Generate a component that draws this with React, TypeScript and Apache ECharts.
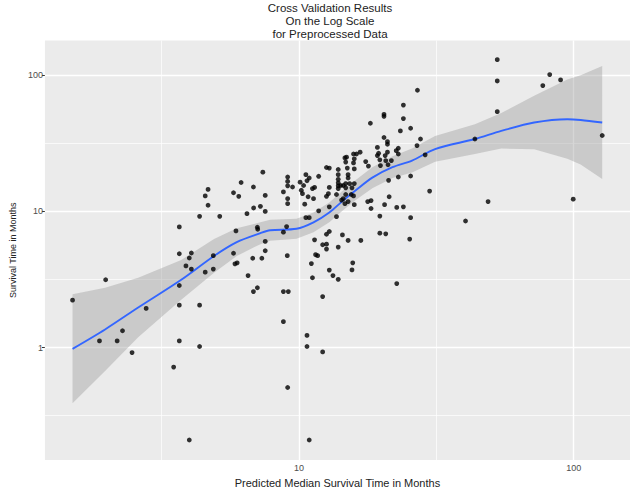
import React, { useEffect, useRef } from "react";
import * as echarts from "echarts";

// Observed points (months): predicted median survival vs observed survival
const predicted = [
  1.5, 1.88, 1.98, 2.18, 2.28, 2.47, 2.78, 3.5, 3.67, 3.67, 3.67, 3.67, 3.67, 3.88, 3.99, 3.99, 4.06, 4.06, 4.35, 4.35,
  4.35, 4.56, 4.56, 4.67, 4.67, 4.88, 4.88, 5.15, 5.78, 5.78, 5.85, 5.96, 5.9, 6.04, 6.16, 6.47, 6.53, 6.83, 6.79, 6.83,
  6.84, 7.06, 7.08, 7.06, 7.24, 7.33, 7.39, 7.54, 7.54, 7.54, 7.54, 8.78, 8.78, 8.78, 8.78, 9.02, 9.07, 9.1, 9.1, 9.1,
  9.1, 9.1, 9.15, 9.1, 9.48, 10.1, 10.4, 10.6, 10.7, 10.9, 10.2, 10.3, 10.8, 11.3, 10.5, 11.2, 11.4, 11.8, 11.8, 10.6,
  10.9, 11.4, 12.2, 12.6, 12.6, 11.5, 11.7, 11.1, 11.2, 12.2, 10.7, 10.7, 12.2, 10.9, 12.6, 12.9, 12.9, 12.8, 12.6, 12.9,
  12.9, 12.6, 12.9, 13.3, 13.9, 13.9, 13.7, 13.7, 13.9, 13.9, 13.9, 13.9, 13.9, 13.9, 14.2, 14.5, 14.5, 14.3, 14.4, 14.7,
  14.7, 14.8, 14.8, 14.8, 14.8, 14.9, 15.0, 15.1, 15.1, 15.1, 15.1, 15.3, 15.5, 15.6, 15.6, 15.7, 15.8, 15.8, 15.8, 15.9,
  15.9, 15.9, 15.9, 16.2, 16.7, 16.8, 17.5, 17.8, 17.9, 18.3, 18.3, 18.2, 19.3, 19.3, 19.5, 19.7, 19.8, 19.7, 19.7, 20.4,
  20.4, 20.4, 20.5, 20.6, 20.7, 20.7, 21.0, 21.0, 21.0, 21.1, 21.2, 21.3, 21.7, 22.6, 22.7, 22.7, 23.0, 23.0, 23.0, 23.4,
  24.0, 24.0, 24.0, 25.3, 25.5, 25.5, 25.5, 27.0, 26.9, 27.7, 28.8, 29.9, 40.4, 43.7, 48.8, 52.7, 52.7, 52.7, 77.2, 81.8,
  89.6, 99.6, 127,
];
const observed = [
  2.23, 1.12, 3.15, 1.12, 1.33, 0.92, 1.94, 0.72, 7.69, 4.89, 2.86, 2.05, 1.12, 3.98, 4.55, 0.21, 4.95, 3.77, 9.2, 2.05,
  1.02, 13.0, 3.58, 14.5, 11.1, 4.73, 3.77, 9.2, 13.7, 4.93, 4.12, 4.19, 7.19, 12.9, 16.3, 9.62, 3.38, 15.1, 4.53, 2.58,
  10.6, 7.65, 7.4, 2.75, 10.9, 4.53, 19.4, 13.1, 10.0, 6.02, 5.14, 13.9, 7.04, 2.58, 1.55, 7.74, 4.73, 17.9, 16.6, 15.4,
  12.4, 11.4, 2.58, 0.51, 15.1, 16.4, 15.5, 18.6, 16.8, 17.6, 14.3, 13.5, 12.8, 12.4, 11.3, 14.7, 15.0, 18.1, 10.1, 9.0,
  9.0, 6.18, 5.69, 5.75, 5.29, 4.81, 4.73, 4.14, 3.26, 2.37, 1.23, 1.02, 0.93, 0.21, 21.0, 20.8, 15.0, 13.5, 12.9, 10.8,
  7.12, 6.8, 3.71, 3.38, 3.17, 5.47, 13.3, 9.15, 20.3, 18.6, 17.2, 16.2, 15.4, 14.7, 15.5, 15.5, 12.4, 12.1, 6.72, 24.7,
  11.4, 23.0, 16.0, 14.9, 13.3, 25.0, 20.8, 18.6, 17.6, 11.8, 6.12, 16.0, 13.3, 14.9, 3.72, 4.19, 26.4, 22.7, 13.0, 24.3,
  20.5, 16.0, 11.2, 26.4, 27.2, 6.12, 23.2, 11.8, 21.5, 12.0, 10.5, 44.4, 25.7, 29.5, 26.7, 23.9, 21.7, 9.24, 6.92, 51.6,
  49.9, 34.9, 11.2, 25.7, 23.6, 6.84, 32.5, 31.1, 27.2, 22.0, 16.9, 12.8, 23.6, 27.9, 10.7, 2.95, 29.1, 26.4, 17.9, 39.0,
  60.3, 48.0, 10.8, 6.26, 40.8, 18.2, 9.0, 77.5, 30.4, 34.0, 26.0, 14.1, 8.5, 34.0, 11.8, 130, 90.7, 54.0, 83.9, 101,
  92.3, 12.3, 36.1,
];

// Loess fit with standard-error band (months)
const smoothX = [1.5, 1.97, 2.6, 3.73, 4.91, 5.94, 7.24, 7.86, 9.8, 11.3, 12.9, 14.4, 16.1, 18.5, 21.9, 25.8, 31.3, 43.7, 54.5, 71.8, 94.8, 106, 127];
const smoothFit = [0.98, 1.36, 1.97, 3.15, 4.71, 5.95, 6.92, 7.27, 7.46, 8.32, 9.83, 11.9, 14.3, 17.7, 21.1, 23.6, 28.7, 34.0, 39.0, 44.9, 47.5, 46.9, 44.9];
const smoothLower = [0.39, 0.675, 1.19, 2.25, 3.54, 4.71, 5.75, 6.1, 6.31, 7.04, 8.32, 10.1, 12.1, 14.8, 17.6, 19.3, 23.1, 26.4, 28.9, 28.6, 24.3, 22.1, 17.3];
const smoothUpper = [2.46, 2.75, 3.26, 4.4, 6.26, 7.52, 8.32, 8.68, 8.82, 9.83, 11.6, 14.1, 17.0, 21.1, 25.4, 28.9, 35.7, 43.7, 52.8, 70.6, 92.8, 99.7, 117];

// Axes
const xTickValues = [10, 100];
const yTickValues = [1, 10, 100];
const xDomain = [1.19, 160.3];
const yDomain = [0.1494, 179.7];

const titleLines = ["Cross Validation Results", "On the Log Scale", "for Preprocessed Data"];
const xTitle = "Predicted Median Survival Time in Months";
const yTitle = "Survival Time in Months";

const lg = Math.log10;
const FONT = "'Liberation Sans', Arial, sans-serif";

function minorBreaks(majors: number[], lo: number, hi: number): number[] {
  const step = majors.length > 1 ? majors[1] - majors[0] : 1;
  const out: number[] = [];
  for (let v = majors[0] - step / 2; v <= hi + 1e-9; v += step) {
    if (v >= lo) out.push(v);
  }
  return out;
}

export default function App() {
  const ref = useRef<HTMLDivElement>(null);

  useEffect(() => {
    if (!ref.current) return;
    const chart = echarts.init(ref.current, null, { renderer: "svg" });

    const xMin = lg(xDomain[0]);
    const xMax = lg(xDomain[1]);
    const yMin = lg(yDomain[0]);
    const yMax = lg(yDomain[1]);
    const xMajor = xTickValues.map(lg);
    const yMajor = yTickValues.map(lg);
    const xMinor = minorBreaks(xMajor, xMin, xMax);
    const yMinor = minorBreaks(yMajor, yMin, yMax);

    const gridLines: any[] = [
      ...xMinor.map((v) => ({ xAxis: v, lineStyle: { width: 0.7 } })),
      ...yMinor.map((v) => ({ yAxis: v, lineStyle: { width: 0.7 } })),
      ...xMajor.map((v) => ({ xAxis: v, lineStyle: { width: 1.4 } })),
      ...yMajor.map((v) => ({ yAxis: v, lineStyle: { width: 1.4 } })),
    ];

    const fmt = (v: number) => String(Math.round(Math.pow(10, v)));

    chart.setOption({
      animation: false,
      textStyle: { fontFamily: FONT },
      grid: {
        left: 39,
        right: 4,
        top: 40.5,
        bottom: 29,
        show: true,
        backgroundColor: "#EBEBEB",
        borderWidth: 0,
      },
      graphic: titleLines.map((t, i) => ({
        type: "text",
        x: 330,
        y: 8.2 + i * 12.8,
        style: {
          text: t,
          textAlign: "center",
          textVerticalAlign: "middle",
          fontSize: 11.5,
          fontFamily: FONT,
          fill: "#222",
        },
      })),
      xAxis: {
        type: "value",
        min: xMin,
        max: xMax,
        axisLine: { show: false },
        splitLine: { show: false },
        axisTick: { show: true, customValues: xMajor, length: 3, lineStyle: { color: "#333" } },
        axisLabel: { customValues: xMajor, formatter: fmt, fontSize: 9, color: "#4d4d4d", margin: 3, fontFamily: FONT },
        name: xTitle,
        nameLocation: "middle",
        nameGap: 13,
        nameTextStyle: { fontSize: 11, color: "#222", fontFamily: FONT },
      },
      yAxis: {
        type: "value",
        min: yMin,
        max: yMax,
        axisLine: { show: false },
        splitLine: { show: false },
        axisTick: { show: true, customValues: yMajor, length: 3, lineStyle: { color: "#333" } },
        axisLabel: { customValues: yMajor, formatter: fmt, fontSize: 9, color: "#4d4d4d", margin: 2, fontFamily: FONT },
        name: yTitle,
        nameLocation: "middle",
        nameRotate: 90,
        nameGap: 26,
        nameTextStyle: { fontSize: 9, color: "#222", fontFamily: FONT },
      },
      series: [
        {
          type: "scatter",
          data: [],
          z: 1,
          silent: true,
          markLine: {
            z: 1,
            silent: true,
            symbol: ["none", "none"],
            label: { show: false },
            lineStyle: { color: "#FFFFFF", type: "solid" },
            data: gridLines,
          },
        },
        {
          type: "custom",
          z: 2,
          silent: true,
          data: smoothX.map((x, i) => [lg(x), lg(smoothLower[i]), lg(smoothUpper[i])]),
          encode: { x: 0, y: [1, 2] },
          renderItem: (params: any, api: any) => {
            if (params.dataIndex !== 0) return null;
            const upper = smoothX.map((x, i) => api.coord([lg(x), lg(smoothUpper[i])]));
            const lower = smoothX.map((x, i) => api.coord([lg(x), lg(smoothLower[i])])).reverse();
            return {
              type: "polygon",
              shape: { points: upper.concat(lower) },
              style: { fill: "rgba(153,153,153,0.4)" },
            };
          },
        },
        {
          type: "line",
          data: smoothX.map((x, i) => [lg(x), lg(smoothFit[i])]),
          symbol: "none",
          smooth: 0.3,
          lineStyle: { color: "#3366FF", width: 1.9 },
          z: 3,
          silent: true,
        },
        {
          type: "scatter",
          data: predicted.map((x, i) => [lg(x), lg(observed[i])]),
          symbolSize: 4.8,
          itemStyle: { color: "#000000" },
          z: 4,
          silent: true,
        },
      ],
    });

    return () => chart.dispose();
  }, []);

  return (
    <div
      ref={ref}
      style={{ position: "fixed", left: 0, top: 0, width: 634, height: 493, background: "#fff" }}
    />
  );
}
